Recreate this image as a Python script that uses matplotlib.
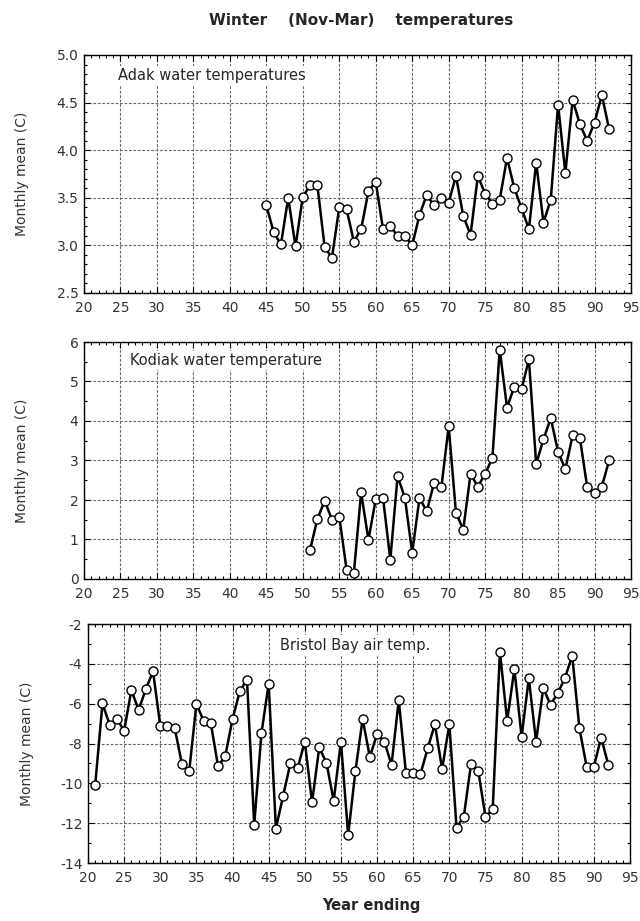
import numpy as np
import matplotlib
matplotlib.use('Agg')
import matplotlib.pyplot as plt
from matplotlib.ticker import MultipleLocator

# Adak water temperatures, years ending 1945-1992
adak_years = list(range(45, 93))
adak_temp = [3.42, 3.14, 3.01, 3.50, 2.99, 3.51, 3.63, 3.63, 2.98, 2.87,
             3.40, 3.38, 3.04, 3.17, 3.57, 3.67, 3.17, 3.20, 3.10, 3.10,
             3.00, 3.32, 3.53, 3.42, 3.50, 3.45, 3.73, 3.31, 3.11, 3.73,
             3.54, 3.44, 3.48, 3.92, 3.60, 3.39, 3.17, 3.87, 3.24, 3.48,
             4.48, 3.76, 4.53, 4.27, 4.10, 4.29, 4.58, 4.22]

# Kodiak water temperature, 1951-1992
kodiak_years = list(range(51, 93))
kodiak_temp = [0.74, 1.52, 1.98, 1.50, 1.58, 0.24, 0.15, 2.19, 0.99, 2.02,
               2.05, 0.49, 2.61, 2.05, 0.67, 2.05, 1.71, 2.44, 2.32, 3.87,
               1.68, 1.25, 2.66, 2.34, 2.66, 3.07, 5.81, 4.34, 4.87, 4.81,
               5.56, 2.91, 3.54, 4.07, 3.22, 2.78, 3.64, 3.56, 2.32, 2.17,
               2.34, 3.00]

# Bristol Bay air temperature, 1921-1992
bristol_years = list(range(21, 93))
bristol_temp = [-10.07, -5.99, -7.06, -6.77, -7.36, -5.32, -6.32, -5.27, -4.38, -7.11,
                -7.11, -7.23, -9.04, -9.40, -6.02, -6.86, -6.99, -9.15, -8.62, -6.77,
                -5.38, -4.80, -12.08, -7.49, -5.00, -12.27, -10.63, -9.00, -9.25, -7.90,
                -10.96, -8.20, -8.98, -10.88, -7.90, -12.60, -9.40, -6.77, -8.67, -7.53,
                -7.90, -9.07, -5.82, -9.49, -9.49, -9.54, -8.25, -7.03, -9.29, -7.03,
                -12.22, -11.68, -9.04, -9.37, -11.68, -11.30, -3.39, -6.86, -4.26, -7.66,
                -4.73, -7.90, -5.22, -6.05, -5.48, -4.71, -3.59, -7.23, -9.17, -9.17,
                -7.70, -9.07]

x_ticks = list(range(20, 96, 5))

W, H = 640, 921


def rect(l, t, r, b):
    return [l / W, 1 - b / H, (r - l) / W, (b - t) / H]


fig = plt.figure(figsize=(6.4, 9.21), dpi=100)
plt.rcParams['font.family'] = ['DejaVu Sans']

panels = [
    (rect(84, 55, 631, 293), adak_years, adak_temp, (2.5, 5.0), 0.5, 0.1, '%.1f',
     'Adak water temperatures', (0.062, 0.915)),
    (rect(84, 342, 631, 579), kodiak_years, kodiak_temp, (0, 6), 1, 0.5, '%d',
     'Kodiak water temperature', (0.084, 0.922)),
    (rect(88, 624, 630, 863), bristol_years, bristol_temp, (-14, -2), 2, 1, '%d',
     'Bristol Bay air temp.', (0.354, 0.912)),
]

for pos, xs, ys, ylim, ymaj, ymin, fmt, label, tpos in panels:
    ax = fig.add_axes(pos)
    ax.plot(xs, ys, color='black', lw=1.8, marker='o', ms=6.5,
            mfc='white', mec='black', mew=1.0, zorder=3)
    ax.set_xlim(20, 95)
    ax.set_ylim(*ylim)
    ax.set_xticks(x_ticks)
    ax.xaxis.set_minor_locator(MultipleLocator(1))
    ax.yaxis.set_major_locator(MultipleLocator(ymaj))
    ax.yaxis.set_minor_locator(MultipleLocator(ymin))
    ax.yaxis.set_major_formatter(plt.FormatStrFormatter(fmt))
    ax.tick_params(which='both', direction='in', top=True, right=True,
                   labelsize=10, labelcolor='0.2', width=0.8)
    ax.tick_params(which='major', length=4)
    ax.tick_params(axis='x', which='major', pad=6)
    ax.tick_params(axis='y', which='major', pad=4)
    ax.tick_params(which='minor', length=2)
    ax.grid(True, which='major', color='0.4', lw=0.8, ls=(0, (2.5, 1.5)))
    for s in ax.spines.values():
        s.set_linewidth(1.0)
    ax.text(tpos[0], tpos[1], label, transform=ax.transAxes, fontsize=10.5,
            color='0.15', va='center', ha='left', zorder=5,
            bbox=dict(facecolor='white', edgecolor='none', pad=1.5))
    ax.set_ylabel('Monthly mean (C)', fontsize=10, color='0.2')
    ax.yaxis.set_label_coords(-0.10, 0.5)

fig.text(0.565, 0.978, 'Winter    (Nov-Mar)    temperatures', ha='center',
         va='center', fontsize=11, fontweight='bold', color='0.15')
fig.text(0.58, 0.017, 'Year ending', ha='center', va='center',
         fontsize=10.5, fontweight='bold', color='0.15')

fig.savefig('out.png', dpi=100)
